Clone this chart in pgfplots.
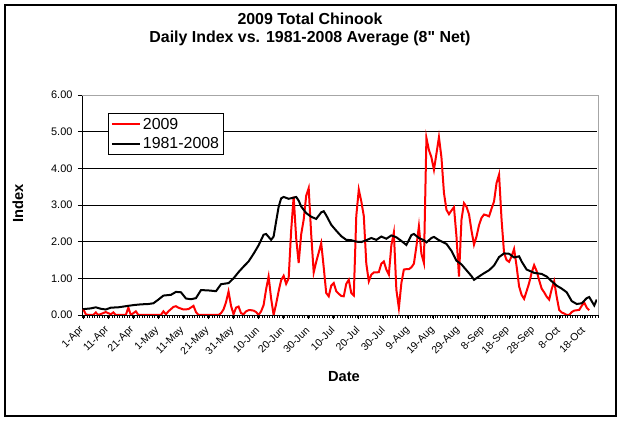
\documentclass[border=0pt]{standalone}
\usepackage{fontspec}
\setmainfont{Liberation Sans}[Ligatures=TeXOff]
\usepackage{pgfplots}
\pgfplotsset{compat=1.18}

% 2009 daily index (day 0 = 1-Apr)
\pgfplotstableread{
day val
0 0.16
1 0.02
2 0
4 0
5 0.07
6 0
9 0.08
10 0.05
11 0.02
12 0.07
13 0
17 0
18 0.20
19 0
21 0.10
22 0
31 0
32 0.10
33 0.02
34 0.10
36 0.22
37 0.24
38 0.20
40 0.15
42 0.16
44 0.25
45 0.08
46 0
54 0
55 0.05
56 0.15
57 0.35
58 0.64
59 0.25
60 0.02
61 0.20
62 0.23
63 0.05
64 0.02
65 0.10
66 0.13
67 0.13
68 0.12
69 0.08
70 0.0
71 0.10
72 0.27
73 0.70
74 1.05
75 0.45
76 0.0
77 0.30
78 0.65
79 0.95
80 1.07
81 0.85
82 1.00
83 2.30
84 3.23
85 2.10
86 1.42
87 2.20
88 2.60
89 3.25
90 3.46
91 2.20
92 1.16
93 1.45
94 1.70
95 1.96
96 1.30
97 0.60
98 0.51
99 0.80
100 0.87
101 0.65
102 0.58
103 0.52
104 0.51
105 0.85
106 0.96
107 0.60
108 0.53
109 2.70
110 3.42
111 3.10
112 2.70
113 1.40
114 0.92
115 1.10
116 1.16
117 1.16
118 1.17
119 1.40
120 1.46
121 1.24
122 1.10
123 1.90
124 2.25
125 0.69
126 0.19
127 0.87
128 1.24
129 1.25
130 1.25
131 1.30
132 1.40
133 1.87
134 2.42
135 1.67
136 1.42
137 4.83
138 4.50
139 4.30
140 3.96
141 4.40
142 4.85
143 4.30
144 3.33
145 2.87
146 2.75
147 2.85
148 2.94
149 2.14
150 1.05
151 2.60
152 3.05
153 2.95
154 2.75
155 2.30
156 1.92
157 2.14
158 2.45
159 2.65
160 2.74
161 2.72
162 2.69
163 2.90
164 3.10
165 3.60
166 3.83
167 2.60
168 1.69
169 1.50
170 1.45
171 1.60
172 1.80
173 1.33
174 0.78
175 0.55
176 0.44
177 0.65
178 0.87
179 1.15
180 1.36
181 1.20
182 0.95
183 0.72
184 0.62
185 0.50
186 0.42
187 0.70
188 0.92
189 0.50
190 0.14
191 0.07
192 0.04
193 0.0
194 0.0
195 0.08
196 0.12
197 0.13
198 0.14
199 0.25
200 0.34
201 0.20
202 0.13
}\seasonA

% 1981-2008 average
\pgfplotstableread{
day val
0 0.16
3 0.18
5 0.21
7 0.17
9 0.15
11 0.20
14 0.21
17 0.24
20 0.27
23 0.29
26 0.30
28 0.32
30 0.42
32 0.53
35 0.55
37 0.63
39 0.62
41 0.45
43 0.43
45 0.46
47 0.68
50 0.67
53 0.65
55 0.84
58 0.87
60 1.00
62 1.17
64 1.32
66 1.46
68 1.67
70 1.90
72 2.19
73 2.21
75 2.05
76 2.14
77 2.55
78 2.95
79 3.18
80 3.22
82 3.17
84 3.20
85 3.22
86 3.12
87 2.96
89 2.78
91 2.68
93 2.62
95 2.80
96 2.83
97 2.72
99 2.46
101 2.30
103 2.15
105 2.05
107 2.04
109 2.00
111 1.99
113 2.04
115 2.10
117 2.05
119 2.14
121 2.08
123 2.17
125 2.12
127 2.02
129 1.91
131 2.18
132 2.21
134 2.10
136 2.04
137 1.98
139 2.10
140 2.13
142 2.04
145 1.94
147 1.75
149 1.48
151 1.38
153 1.22
155 1.06
156 0.96
158 1.05
160 1.14
162 1.22
164 1.35
166 1.58
168 1.68
170 1.67
172 1.57
174 1.60
175 1.46
177 1.24
180 1.15
183 1.12
185 1.05
187 0.92
189 0.80
191 0.72
193 0.62
195 0.38
197 0.30
199 0.32
201 0.46
202 0.49
204 0.26
205 0.42
}\seasonB

\begin{document}
\begin{tikzpicture}
\useasboundingbox (-82bp,-107bp) rectangle (542bp,315bp);
\fill[white] (-82bp,-107bp) rectangle (542bp,315bp);
\draw[line width=1.2bp] (-77bp,-101bp) rectangle (534bp,310bp);
\begin{axis}[
  at={(0,0)}, anchor=south west,
  scale only axis, width=516bp, height=220bp,
  xmin=-0.5, xmax=205.5, ymin=0, ymax=6,
  clip mode=individual,
  axis line style={black, line width=1bp},
  xtick pos=bottom, ytick pos=left,
  tick align=outside,
  ytick={0,1,...,6},
  xtick={0,10,...,200},
  xticklabels={1-Apr,11-Apr,21-Apr,1-May,11-May,21-May,31-May,10-Jun,20-Jun,30-Jun,10-Jul,20-Jul,30-Jul,9-Aug,19-Aug,29-Aug,8-Sep,18-Sep,28-Sep,8-Oct,18-Oct},
  major tick length=4bp,
  tick style={black, line width=1bp},
  ymajorgrids, grid style={black, line width=0.9bp},
  /pgf/number format/assume math mode=true,
  yticklabel style={font=\fontsize{11}{13}\selectfont, xshift=-2bp,
    /pgf/number format/fixed, /pgf/number format/fixed zerofill,
    /pgf/number format/precision=2},
  xticklabel style={font=\fontsize{10.5}{12}\selectfont, rotate=45, anchor=east, xshift=-4bp, yshift=-6bp},
  legend style={at={(0.0504,0.918)}, anchor=north west, draw=black, line width=0.8bp,
    font=\fontsize{16}{18}\selectfont, inner sep=2.5bp, row sep=3bp, cells={anchor=west}},
  legend image code/.code={\draw[#1] (0bp,0bp) -- (28bp,0bp);},
]
\addplot[red, line width=2bp] table[x=day, y=val] {\seasonA};
\addlegendentry{2009}
\addplot[black, line width=2bp] table[x=day, y=val] {\seasonB};
\addlegendentry{1981-2008}
\draw[white, line width=1.4bp] (rel axis cs:0,1) -- (rel axis cs:1,1) -- (rel axis cs:1,0);
\draw[gray!70, line width=1bp] (rel axis cs:0,1) -- (rel axis cs:1,1) -- (rel axis cs:1,0);
% category tick marks along the date axis
\pgfplotsinvokeforeach{-0.5,0.5,...,205.5}{
  \draw[black, line width=1bp] (axis cs:#1,0) -- ++(0bp,-3bp);
}
\pgfplotsinvokeforeach{0,1,...,6}{
  \draw[black, line width=1bp] (axis cs:-0.5,#1) -- ++(-4bp,0bp);
}
\end{axis}
\node[font=\bfseries\fontsize{16}{19}\selectfont] at (228bp,296bp) {2009 Total Chinook};
\node[font=\bfseries\fontsize{16}{19}\selectfont] at (228bp,277bp) {Daily Index vs. 1981-2008 Average (8" Net)};
\node[font=\bfseries\fontsize{14.7}{17}\selectfont, rotate=90] at (-64bp,112bp) {Index};
\node[font=\bfseries\fontsize{14.7}{17}\selectfont] at (262bp,-62bp) {Date};
\end{tikzpicture}
\end{document}
